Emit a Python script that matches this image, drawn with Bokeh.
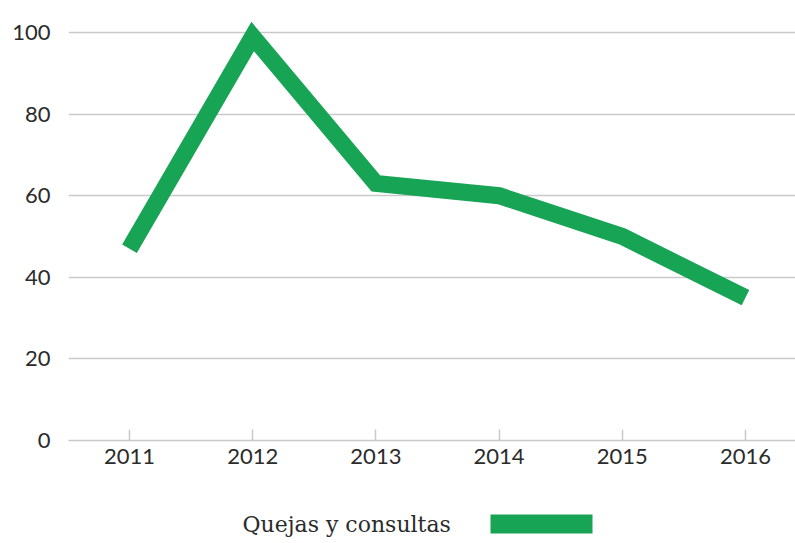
from bokeh.plotting import figure
from bokeh.layouts import column
from bokeh.models import FixedTicker, Range1d
from bokeh.core.properties import value
from bokeh.embed import file_html
from bokeh.resources import INLINE

# Data
years = [2011, 2012, 2013, 2014, 2015, 2016]
year_labels = ["2011", "2012", "2013", "2014", "2015", "2016"]
quejas = [47, 99, 63, 60, 50, 35]
y_ticks = [0, 20, 40, 60, 80, 100]
series_name = "Quejas y consultas"

GREEN = "#17a454"
GRID = "#c9c9c9"
TEXT = "#2b2b2b"

p = figure(width=795, height=498, output_backend="svg", toolbar_location=None,
           x_range=Range1d(2010.505, 2016.406), y_range=Range1d(0, 104.9),
           frame_width=727, frame_height=428,
           min_border_left=68, min_border_right=0, min_border_top=12, min_border_bottom=58)
p.outline_line_color = None

p.line(years, quejas, line_width=17, line_color=GREEN, line_join="miter", line_cap="butt")

# axes
p.xaxis.ticker = FixedTicker(ticks=years)
p.xaxis.major_label_overrides = {y: l for y, l in zip(years, year_labels)}
p.xaxis.axis_line_color = GRID
p.xaxis.axis_line_width = 1.5
p.xaxis.major_tick_line_color = GRID
p.xaxis.major_tick_line_width = 1.5
p.xaxis.major_tick_in = 11
p.xaxis.major_tick_out = 0
p.xaxis.minor_tick_line_color = None
p.xaxis.major_label_standoff = 8
p.xaxis.major_label_text_font = "Lato"
p.xaxis.major_label_text_font_size = "22px"
p.xaxis.major_label_text_color = TEXT

p.yaxis.ticker = FixedTicker(ticks=y_ticks)
p.yaxis.axis_line_color = None
p.yaxis.major_tick_line_color = None
p.yaxis.minor_tick_line_color = None
p.yaxis.major_label_standoff = 12
p.yaxis.major_label_text_font = "Lato"
p.yaxis.major_label_text_font_size = "22px"
p.yaxis.major_label_text_color = TEXT

p.xgrid.grid_line_color = None
p.ygrid.ticker = FixedTicker(ticks=y_ticks[1:])
p.ygrid.grid_line_color = GRID
p.ygrid.grid_line_width = 1.5

# legend strip (its frame is aligned with the chart frame by the column layout)
lg = figure(width=795, height=43, output_backend="svg", toolbar_location=None,
            x_range=Range1d(68, 795), y_range=Range1d(43, 0),
            x_axis_location=None, y_axis_location=None,
            min_border=0)
lg.outline_line_color = None
lg.grid.visible = False
lg.text(x=[242], y=[26], text=[series_name], text_baseline="middle", text_align="left",
        text_font=value("DejaVu Serif"), text_font_size="22px", text_color=TEXT)
lg.quad(left=[490], right=[592], top=[16], bottom=[35], fill_color=GREEN, line_color=None)

layout = column(p, lg, spacing=0)
open("out.html", "w").write(file_html(layout, INLINE))
